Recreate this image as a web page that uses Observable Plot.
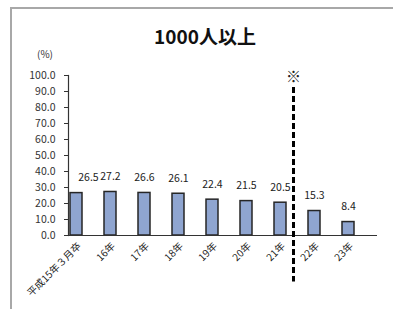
<!DOCTYPE html>
<html><head><meta charset="utf-8">
<script src="https://cdn.jsdelivr.net/npm/d3@7"></script>
<script src="https://cdn.jsdelivr.net/npm/@observablehq/plot@0.6"></script>
<style>
body{margin:0;background:#fff;font-family:"Noto Sans CJK JP","Noto Sans",sans-serif;}
#wrap{position:relative;width:393px;height:309px;overflow:hidden;}
#box{position:absolute;left:10px;top:7px;width:400px;height:320px;border-left:2px solid #a8a8a8;border-top:2px solid #a8a8a8;}
#title{position:absolute;left:0;width:410px;top:22px;text-align:center;font-weight:bold;font-size:19px;color:#111;}
#unit{position:absolute;left:37px;top:46px;font-size:10px;color:#333;}
#chart{position:absolute;left:0;top:0;}
</style></head>
<body><div id="wrap"><div id="box"></div><div id="chart"></div><div id="title">1000人以上</div><div id="unit">(%)</div></div>
<script>
const categories = ["平成15年３月卒","16年","17年","18年","19年","20年","21年","22年","23年"];
const values = [26.5,27.2,26.6,26.1,22.4,21.5,20.5,15.3,8.4];
const yTicks = [0,10,20,30,40,50,60,70,80,90,100];
const separatorAfter = "21年";
const separatorMark = "※";

const data = categories.map((c,i)=>({cat:c,value:values[i]}));
const font = '"Noto Sans CJK JP","Noto Sans",sans-serif';
const labelOpts = {x:"cat", y:"value", text:d=>d.value.toFixed(1), dy:-15, fontSize:10.5, fill:"#222"};

const chart = Plot.plot({
  width:393, height:309,
  marginLeft:68, marginRight:16, marginTop:75, marginBottom:74,
  style:{fontFamily:font, background:"transparent", overflow:"visible"},
  x:{type:"band", domain:categories, range:[57.4,365.2], paddingInner:0.66, paddingOuter:0.33, axis:null},
  y:{domain:[0,100]},
  marks:[
    Plot.barY(data,{x:"cat", y:"value", fill:"#8fa5d0", stroke:"#262626", strokeWidth:1.5}),
    Plot.ruleY([0],{stroke:"#333", strokeWidth:1.2}),
    Plot.frame({anchor:"left", stroke:"#333", strokeWidth:1.2}),
    Plot.axisY({ticks:yTicks, tickSize:4, tickPadding:9, tickFormat:d=>d.toFixed(1), fontSize:10.5, fill:"#333", stroke:"#333", label:null}),
    Plot.text(data.slice(0,1),{...labelOpts, dx:12}),
    Plot.text(data.slice(1),labelOpts),
    Plot.text(categories,{x:d=>d, y:()=>0, text:d=>d, rotate:-45, textAnchor:"end", dx:3, dy:9, fontSize:10, fill:"#222"}),
    Plot.ruleX([separatorAfter],{x:d=>d, y1:()=>92.5, y2:()=>-29, dx:13, stroke:"#000", strokeWidth:3, strokeDasharray:"6,3"}),
    Plot.text([separatorMark],{x:()=>separatorAfter, y:()=>99, text:d=>d, dx:13, fontSize:15, fill:"#222"})
  ]
});
document.getElementById("chart").appendChild(chart);
</script></body></html>
